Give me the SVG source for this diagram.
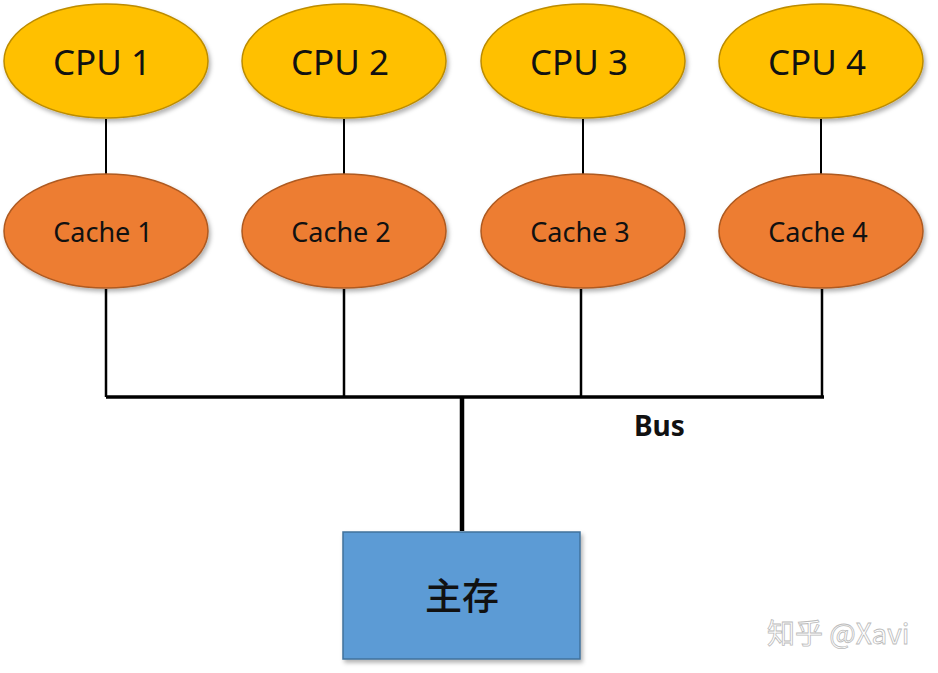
<svg xmlns="http://www.w3.org/2000/svg" width="938" height="673" viewBox="0 0 938 673">
<defs>
<filter id="sh" x="-10%" y="-10%" width="125%" height="130%">
<feDropShadow dx="2" dy="3" stdDeviation="2" flood-color="#000" flood-opacity="0.3"/>
</filter>
<style>
.cpu{fill:#FFC000;stroke:#BC8C00;stroke-width:1.5}
.cache{fill:#ED7D31;stroke:#AE5A21;stroke-width:1.5}
.t{font-family:"Noto Sans","Open Sans",sans-serif;fill:#111;text-anchor:middle}
.ln{stroke:#000;fill:none}
</style>
</defs>
<g id="connectors">
<path class="ln" stroke-width="2" d="M106 119V174M344 119V174M583 119V174M821 119V174"/>
<path class="ln" stroke-width="2.5" d="M106 289V397M344 289V397M581 289V397M822 289V397"/>
<path class="ln" stroke-width="3.5" d="M106 397H824"/>
<path class="ln" stroke-width="4.5" d="M462 397V531"/>
</g>
<g id="cpu1"><ellipse class="cpu" cx="106" cy="61" rx="102" ry="57" filter="url(#sh)"/><text class="t" x="102" y="75" font-size="35">CPU 1</text></g>
<g id="cpu2"><ellipse class="cpu" cx="344" cy="61" rx="102" ry="57" filter="url(#sh)"/><text class="t" x="340" y="75" font-size="35">CPU 2</text></g>
<g id="cpu3"><ellipse class="cpu" cx="583" cy="61" rx="102" ry="57" filter="url(#sh)"/><text class="t" x="579" y="75" font-size="35">CPU 3</text></g>
<g id="cpu4"><ellipse class="cpu" cx="821" cy="61" rx="102" ry="57" filter="url(#sh)"/><text class="t" x="817" y="75" font-size="35">CPU 4</text></g>
<g id="cache1"><ellipse class="cache" cx="106" cy="231" rx="102" ry="57" filter="url(#sh)"/><text class="t" x="103" y="242" font-size="27">Cache 1</text></g>
<g id="cache2"><ellipse class="cache" cx="344" cy="231" rx="102" ry="57" filter="url(#sh)"/><text class="t" x="341" y="242" font-size="27">Cache 2</text></g>
<g id="cache3"><ellipse class="cache" cx="583" cy="231" rx="102" ry="57" filter="url(#sh)"/><text class="t" x="580" y="242" font-size="27">Cache 3</text></g>
<g id="cache4"><ellipse class="cache" cx="821" cy="231" rx="102" ry="57" filter="url(#sh)"/><text class="t" x="818" y="242" font-size="27">Cache 4</text></g>
<g id="bus-label"><text x="634" y="436" font-family="'Noto Sans','Open Sans',sans-serif" font-size="28" font-weight="bold" fill="#111">Bus</text></g>
<g id="memory"><rect x="343" y="532" width="237" height="127" fill="#5B9BD5" stroke="#41719C" stroke-width="1.5" filter="url(#sh)"/><text x="462" y="610" text-anchor="middle" font-family="'Noto Sans CJK SC',sans-serif" font-size="37" font-weight="500" fill="#111">主存</text></g>
<g id="watermark"><text x="767" y="644" font-family="'Noto Sans CJK SC',sans-serif" font-size="28" fill="#fff" stroke="#bbb" stroke-width="0.8">知乎 @Xavi</text></g>
</svg>
